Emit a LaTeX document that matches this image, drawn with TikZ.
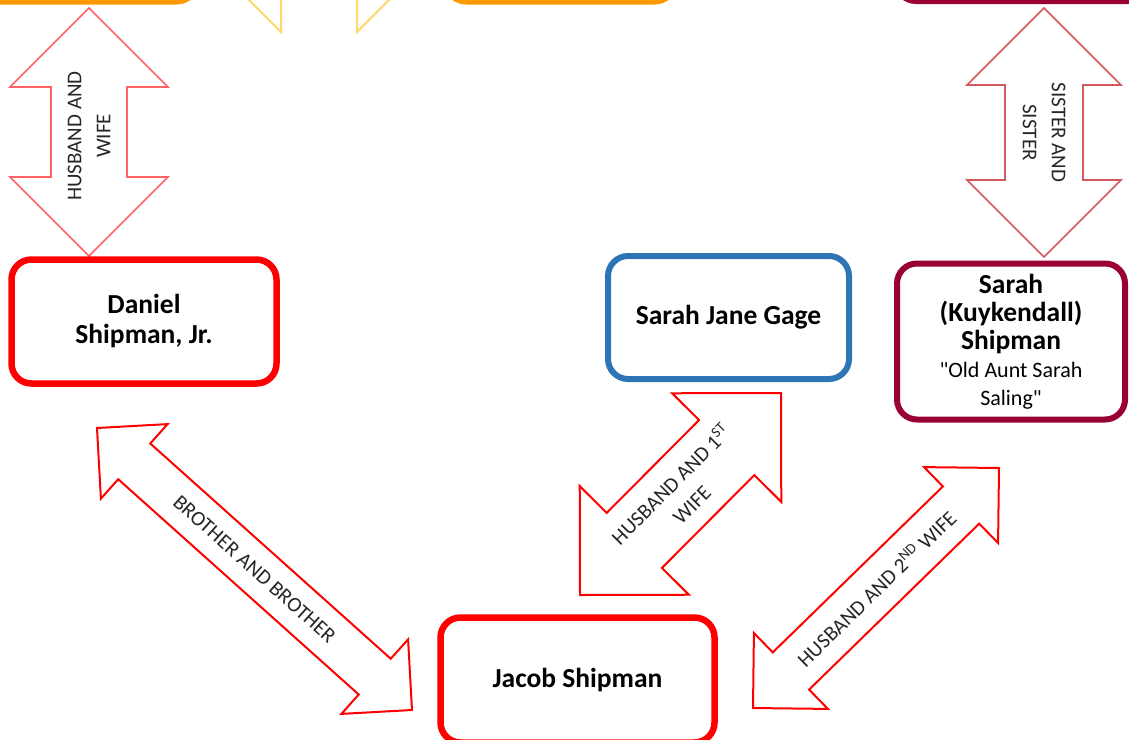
\documentclass[tikz,border=0pt]{standalone}
\usepackage{fontspec}
\setmainfont{Carlito}
\newfontfamily\straightquote{Carlito}
\usetikzlibrary{calc, positioning}

\definecolor{kinred}{RGB}{255,0,0}
\definecolor{kinblue}{RGB}{46,117,182}
\definecolor{kinberry}{RGB}{153,0,51}
\definecolor{kinorange}{RGB}{255,153,0}
\definecolor{kinyellow}{RGB}{255,217,102}
\definecolor{kinpink}{RGB}{255,99,99}
\definecolor{kinrose}{RGB}{214,88,95}

\tikzset{
    person/.style={draw, rounded corners=20pt, line width=6.5pt, align=center,
        inner sep=0pt, text=black, font=\fontsize{27.5}{30}\selectfont\bfseries},
    bondarrow/.style={draw=kinred, line width=2pt, fill=white},
    bondlabel/.style={align=center, inner sep=0pt, text=black!85,
        font=\fontsize{21}{29}\selectfont}
}

% block arrow: #1 style, #2 tail tip, #3 head tip, #4 half shaft, #5 head, #6 label opts, #7 label
\newcommand{\kinarrow}[7]{%
    \draw[#1] let \p1 = ($(#3)-(#2)$), \n1 = {atan2(\y1,\x1)}, \n2 = {veclen(\x1,\y1)} in
        (#2) -- ($(#2)+(\n1:#5)+({\n1+90}:#5)$)
        -- ($(#2)+(\n1:#5)+({\n1+90}:#4)$)
        -- ($(#2)+(\n1:{\n2*1pt-#5})+({\n1+90}:#4)$)
        -- ($(#2)+(\n1:{\n2*1pt-#5})+({\n1+90}:#5)$)
        -- (#3)
        -- ($(#2)+(\n1:{\n2*1pt-#5})+({\n1-90}:#5)$)
        -- ($(#2)+(\n1:{\n2*1pt-#5})+({\n1-90}:#4)$)
        -- ($(#2)+(\n1:#5)+({\n1-90}:#4)$)
        -- ($(#2)+(\n1:#5)+({\n1-90}:#5)$)
        -- cycle
        ($(#2)!0.5!(#3)$) node[bondlabel, rotate=\n1, #6] {#7};
}
\newcommand{\subline}{\fontsize{22}{28}\selectfont\mdseries\straightquote}

\begin{document}
\begin{tikzpicture}[x=1pt, y=-1pt]
    % --- canvas ---
    \useasboundingbox (0,0) rectangle (1129,739);
    \clip (0,0) rectangle (1129,739);

    % --- arrow tips ---
    \coordinate (hwLow) at (89,256);
    \coordinate (hwHigh) at (89,8);
    \coordinate (ssHigh) at (1044,8);
    \coordinate (ssLow) at (1044,257);
    \coordinate (bbTop) at (97,428);
    \coordinate (bbEnd) at (412,710);
    \coordinate (firstLow) at (580,595);
    \coordinate (firstHigh) at (781,393);
    \coordinate (secondLow) at (753,708);
    \coordinate (secondHigh) at (999,468);
    \coordinate (topLeftTip) at (211,-38);
    \coordinate (topRightTip) at (427,-38);

    % --- block arrows ---
    \kinarrow{bondarrow, draw=kinyellow}{topLeftTip}{topRightTip}{30pt}{70pt}{name=topbond}{}
    \kinarrow{bondarrow, draw=kinpink, line width=1.6pt}{hwLow}{hwHigh}{38pt}{79pt}{name=hwlabel, xshift=-4pt}{HUSBAND AND\\WIFE}
    \kinarrow{bondarrow, draw=kinrose, line width=1.6pt}{ssHigh}{ssLow}{39pt}{77pt}{name=sslabel}{SISTER AND\\SISTER}
    \kinarrow{bondarrow}{bbTop}{bbEnd}{24pt}{50pt}{name=bblabel}{BROTHER AND BROTHER}
    \kinarrow{bondarrow}{firstLow}{firstHigh}{39pt}{77pt}{name=firstlabel}{HUSBAND AND 1\textsuperscript{ST}\\WIFE}
    \kinarrow{bondarrow}{secondLow}{secondHigh}{26pt}{53pt}{name=secondlabel}{HUSBAND AND 2\textsuperscript{ND} WIFE}

    % --- people ---
    \node[person, draw=kinorange, line width=5pt, minimum width=300pt, minimum height=150pt] (topleft) at (47,-73) {};
    \node[person, draw=kinorange, line width=5pt, minimum width=229pt, minimum height=150pt] (topmid) at (560.5,-73) {};
    \node[person, draw=kinberry, line width=6pt, minimum width=352pt, minimum height=150pt] (topright) at (1072,-74) {};

    \node[person, draw=kinred, minimum width=265pt, minimum height=124pt] (daniel) at (144,321.5) {Daniel\\Shipman, Jr.};
    \node[person, draw=kinblue, line width=6pt, minimum width=241pt, minimum height=123pt] (gage) at (728.5,317.5) {Sarah Jane Gage};
    \node[person, draw=kinberry, line width=6pt, minimum width=228pt, minimum height=156pt,
        font=\fontsize{27.5}{28}\selectfont\bfseries] (kuykendall) at (1011,341.5)
        {Sarah\\(Kuykendall)\\Shipman\\\subline "Old Aunt Sarah\\\subline Saling"};
    \node[person, draw=kinred, minimum width=274pt, minimum height=125pt] (jacob) at (577.5,680) {Jacob Shipman};
\end{tikzpicture}
\end{document}
